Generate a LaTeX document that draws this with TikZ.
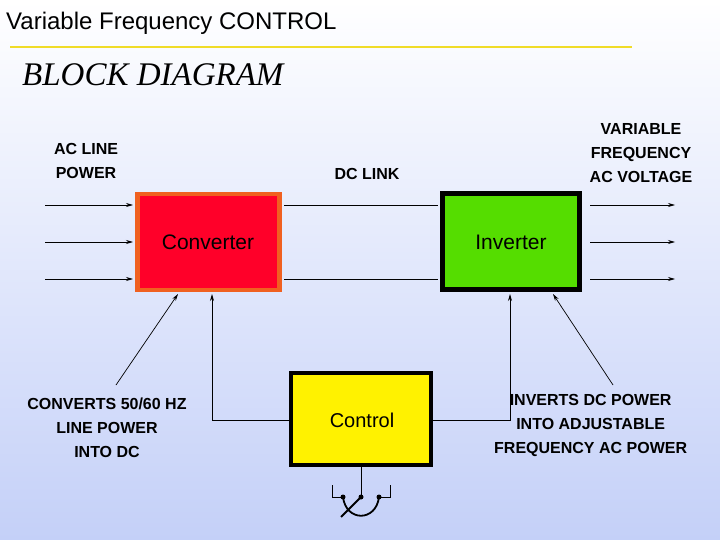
\documentclass[tikz,border=0pt]{standalone}
\usepackage{fontspec}
\usetikzlibrary{arrows.meta}
\setmainfont{Liberation Sans}
\newfontfamily\serifit{Liberation Serif}
\definecolor{bgblue}{RGB}{196,208,248}
\definecolor{tline}{RGB}{240,220,40}
\definecolor{convedge}{RGB}{240,96,32}
\definecolor{convfill}{RGB}{255,0,41}
\definecolor{invfill}{RGB}{85,221,0}
\begin{document}
\begin{tikzpicture}[x=1pt,y=-1pt,
  lbl/.style={font=\bfseries\fontsize{16}{24}\selectfont,align=center,inner sep=0},
  blk/.style={draw,line width=4.5pt,minimum width=#1,minimum height=96pt,inner sep=0},
  arr/.style={-{Stealth[length=7pt,width=4pt]},line width=0.7pt},
  ln/.style={line width=0.7pt}]
\useasboundingbox (0,0) rectangle (720,540);
\shade[top color=white,bottom color=bgblue] (0,0) rectangle (720,540);
\clip (0,0) rectangle (720,540);
\node[anchor=west,inner sep=0,font=\fontsize{24}{28}\selectfont] (title) at (6,23) {Variable Frequency CONTROL};
\draw[line width=1.5pt,tline] (10,47) -- (632,47);
\node[anchor=west,inner sep=0,font=\serifit\itshape\fontsize{33}{36}\selectfont] (bd) at (22,75) {BLOCK DIAGRAM};
\node[blk=142pt,draw=convedge,fill=convfill] (conv) at (208.5,242) {};
\node[font=\fontsize{21}{24}\selectfont] (convt) at (208,242) {Converter};
\node[blk=137pt,fill=invfill] (inv) at (511,241.5) {};
\node[font=\fontsize{21}{24}\selectfont] (invt) at (511,242) {Inverter};
\node[blk=140pt,minimum height=92pt,fill=yellow] (ctl) at (361,419) {};
\node[font=\fontsize{20}{24}\selectfont] (ctlt) at (362,420) {Control};
\node[lbl] (acl) at (86,161) {AC LINE\\POWER};
\node[lbl] (dcl) at (367,174) {DC LINK};
\node[lbl] (vf) at (641,153) {VARIABLE\\FREQUENCY\\AC VOLTAGE};
\node[lbl] (cv) at (107,428) {CONVERTS 50/60 HZ\\LINE POWER\\INTO DC};
\node[lbl,anchor=west] (iv) at (494,425) {\begin{tabular}{@{}c@{}}INVERTS DC POWER\\INTO ADJUSTABLE\\FREQUENCY AC POWER\end{tabular}};
\foreach \y/\n in {205/a,242/b,279/c}{
  \coordinate (i\n) at (45,\y); \coordinate (ci\n) at (133,\y);
  \draw[arr] (i\n) -- (ci\n);
  \coordinate (o\n) at (590,\y); \coordinate (oe\n) at (675,\y);
  \draw[arr] (o\n) -- (oe\n);
}
\coordinate (d1) at (284,205); \coordinate (d2) at (438,205);
\coordinate (d3) at (284,279); \coordinate (d4) at (438,279);
\draw[ln] (d1) -- (d2); \draw[ln] (d3) -- (d4);
\coordinate (cvs) at (116,385); \coordinate (cvt) at (178,294);
\draw[arr] (cvs) -- (cvt);
\coordinate (ivs) at (613,385); \coordinate (ivt) at (553,294);
\draw[arr] (ivs) -- (ivt);
\coordinate (lc) at (212,420); \coordinate (lt) at (212,294);
\draw[arr] (ctl.west |- lc) -- (lc) -- (lt);
\coordinate (rc) at (510,420); \coordinate (rt) at (510,294);
\draw[arr] (ctl.east |- rc) -- (rc) -- (rt);
% switch
\coordinate (s0) at (361,467); \coordinate (sm) at (361,497);
\coordinate (sl) at (343,497); \coordinate (sr) at (379,497);
\draw[line width=1pt] (s0) -- (sm);
\draw[line width=1pt] (sl) -- (332,497) -- (332,485);
\draw[line width=1pt] (sr) -- (390,497) -- (390,485);
\draw[line width=1.8pt] (sl) .. controls (346,522) and (376,522) .. (sr);
\draw[line width=1.8pt] (sm) -- (341,517);
\foreach \p in {sl,sm,sr} \fill (\p) circle (2.5pt);
\end{tikzpicture}
\end{document}
